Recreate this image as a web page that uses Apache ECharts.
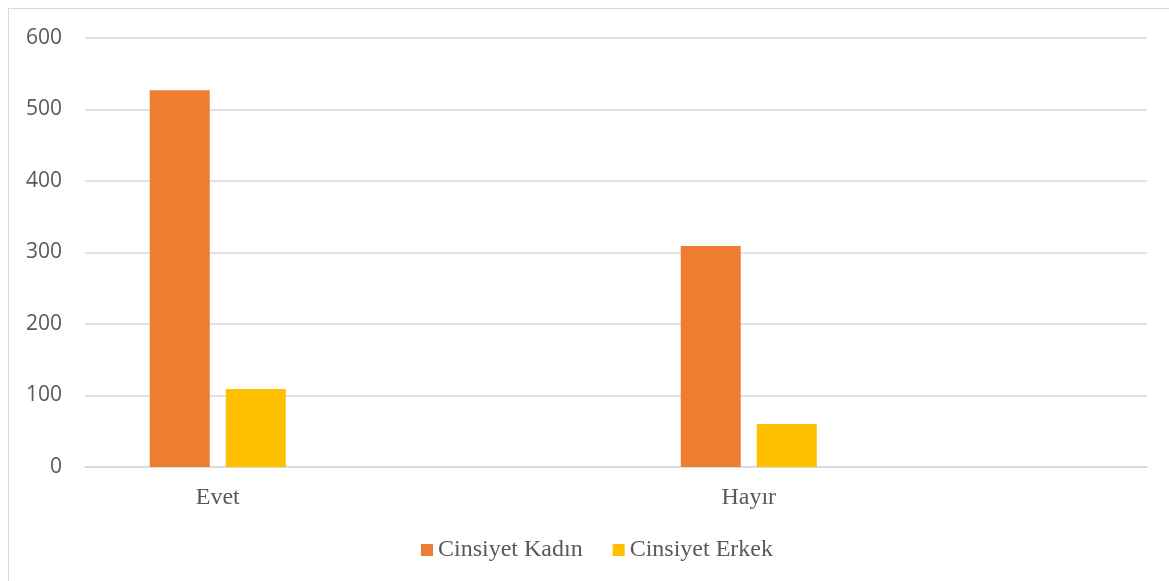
<!DOCTYPE html>
<html>
<head>
<meta charset="utf-8">
<script src="https://cdn.jsdelivr.net/npm/echarts@6/dist/echarts.min.js"></script>
<style>
html,body{margin:0;padding:0;background:#fff;}
#frame{position:absolute;left:8px;top:8px;width:1200px;height:600px;border:1px solid #D9D9D9;box-sizing:border-box;}
#chart{position:absolute;left:0;top:0;width:1169px;height:581px;}
</style>
</head>
<body>
<div id="frame"></div>
<div id="chart"></div>
<script>
// Categories: two answers, each followed by an empty slot (as in the original layout)
const categories = ["Evet", "", "Hayır", ""];
const seriesNames = ["Cinsiyet Kadın", "Cinsiyet Erkek"];
const kadinValues = [527, null, 309, null];
const erkekValues = [109, null, 60, null];
const yTicks = [0, 100, 200, 300, 400, 500, 600];

const chart = echarts.init(document.getElementById('chart'), null, {renderer: 'canvas'});
chart.setOption({
  backgroundColor: 'transparent',
  animation: false,
  grid: {left: 85, right: 22, top: 38, bottom: 114, containLabel: false},
  legend: {
    top: 533,
    left: 416,
    itemWidth: 12,
    itemHeight: 12,
    itemGap: 30,
    icon: 'rect',
    textStyle: {fontFamily: 'Liberation Serif', fontSize: 24, color: '#595959'},
    data: seriesNames
  },
  xAxis: {
    type: 'category',
    data: categories,
    axisLine: {lineStyle: {color: '#D9D9D9', width: 1.5}},
    axisTick: {show: false},
    axisLabel: {fontFamily: 'Liberation Serif', fontSize: 24, color: '#595959', margin: 19}
  },
  yAxis: {
    type: 'value',
    min: yTicks[0],
    max: yTicks[yTicks.length - 1],
    interval: 100,
    axisLine: {show: false},
    axisTick: {show: false},
    splitLine: {lineStyle: {color: '#D9D9D9', width: 1.5}},
    axisLabel: {fontFamily: 'Open Sans', fontSize: 21, color: '#595959', margin: 23}
  },
  series: [
    {name: seriesNames[0], type: 'bar', data: kadinValues, barWidth: 60, barGap: '26.7%', itemStyle: {color: '#ED7D31'}},
    {name: seriesNames[1], type: 'bar', data: erkekValues, barWidth: 60, barGap: '26.7%', itemStyle: {color: '#FFC000'}}
  ]
});
</script>
</body>
</html>
